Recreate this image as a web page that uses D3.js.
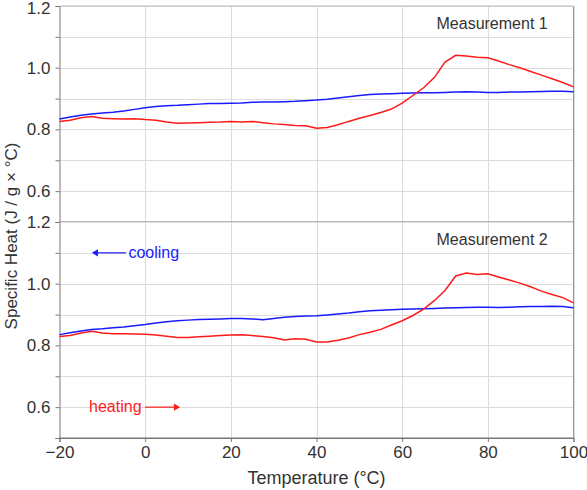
<html>
<script src="https://d3js.org/d3.v7.min.js"></script>
<style>
  body { margin: 0; background: #fff; }
  text { font-family: "Liberation Sans", Arial, sans-serif; }
</style>
<body onload="init()">
<svg width="587" height="490"></svg>
<script>
// temperature grid (°C), shared by all series
var temps = d3.range(-20, 100.01, 2.5);

// Measurement 1
var heat1 = [0.826,0.830,0.838,0.842,0.836,0.835,0.834,0.835,0.832,0.830,0.824,0.820,0.821,0.822,0.823,0.824,
  0.826,0.824,0.826,0.822,0.818,0.816,0.813,0.812,0.804,0.806,0.815,0.826,0.836,0.845,0.855,0.866,0.885,0.910,
  0.935,0.968,1.018,1.040,1.038,1.034,1.032,1.022,1.010,1.000,0.988,0.976,0.964,0.952,0.938];
var cool1 = [0.834,0.840,0.846,0.850,0.853,0.856,0.860,0.865,0.870,0.874,0.877,0.878,0.880,0.882,0.884,0.884,
  0.885,0.886,0.888,0.889,0.889,0.890,0.891,0.893,0.895,0.898,0.902,0.906,0.910,0.913,0.915,0.916,0.917,0.918,
  0.919,0.919,0.920,0.921,0.922,0.921,0.920,0.920,0.921,0.921,0.922,0.923,0.924,0.924,0.922];

// Measurement 2
var heat2 = [0.829,0.832,0.840,0.846,0.840,0.838,0.838,0.837,0.836,0.834,0.830,0.826,0.826,0.828,0.830,0.832,
  0.834,0.835,0.832,0.829,0.825,0.818,0.822,0.820,0.811,0.811,0.817,0.824,0.835,0.843,0.852,0.866,0.880,0.897,
  0.918,0.945,0.978,1.025,1.035,1.030,1.032,1.022,1.012,1.002,0.990,0.976,0.965,0.955,0.938];
var cool2 = [0.835,0.841,0.847,0.852,0.854,0.857,0.860,0.864,0.868,0.873,0.877,0.880,0.882,0.884,0.885,0.886,
  0.887,0.887,0.886,0.883,0.887,0.891,0.894,0.895,0.896,0.899,0.902,0.905,0.909,0.912,0.914,0.916,0.917,0.918,
  0.919,0.920,0.921,0.922,0.923,0.924,0.924,0.923,0.924,0.925,0.926,0.926,0.927,0.926,0.922];

var xTicks = [-20, 0, 20, 40, 60, 80, 100];
var yTicks = [0.5, 0.6, 0.7, 0.8, 0.9, 1.0, 1.1, 1.2];
var yLabels = [0.6, 0.8, 1.0, 1.2];
var panels = [
  { title: "Measurement 1", heat: heat1, cool: cool1 },
  { title: "Measurement 2", heat: heat2, cool: cool2 }
];

function init() {
  var svg = d3.select("svg");
  var left = 59.5, right = 573.5, top = 6, panelH = 216;
  var x = d3.scaleLinear().domain([-20, 100]).range([left, right]);
  var fmt = d3.format(".1f");

  panels.forEach(function (p, i) {
    var y0 = top + i * panelH;
    var y = d3.scaleLinear().domain([0.5, 1.2]).range([y0 + panelH, y0]);
    var g = svg.append("g");

    // grid
    g.selectAll(".hg").data(yTicks.slice(1)).enter().append("line")
      .attr("x1", left).attr("x2", right)
      .attr("y1", function (d) { return Math.round(y(d)) + 0.5; })
      .attr("y2", function (d) { return Math.round(y(d)) + 0.5; })
      .attr("stroke", "#dcdcdc");
    g.selectAll(".vg").data(xTicks.slice(1)).enter().append("line")
      .attr("x1", function (d) { return Math.round(x(d)) + 0.5; })
      .attr("x2", function (d) { return Math.round(x(d)) + 0.5; })
      .attr("y1", y0).attr("y2", y0 + panelH)
      .attr("stroke", "#dcdcdc");

    // left axis
    var ax = g.append("g").attr("transform", "translate(" + left + ",0)")
      .call(d3.axisLeft(y).tickValues(yTicks).tickSize(4).tickPadding(5)
        .tickFormat(function (d) { return yLabels.some(function (v) { return Math.abs(v - d) < 1e-6; }) ? fmt(d) : ""; }));
    ax.select(".domain").attr("stroke", "#777");
    ax.selectAll(".tick line").attr("stroke", "#777");
    ax.selectAll(".tick text").attr("fill", "#333").style("font-size", "17px");
    if (i === 0) {
      // keep the top label inside the page
      ax.selectAll(".tick text").filter(function (d) { return d === 1.2; }).attr("y", 2);
    }

    // right frame and bottom line
    g.append("line").attr("x1", right).attr("x2", right).attr("y1", y0).attr("y2", y0 + panelH)
      .attr("stroke", "#999");
    g.append("line").attr("x1", left).attr("x2", right).attr("y1", y0 + panelH).attr("y2", y0 + panelH)
      .attr("stroke", "#777");

    var line = d3.line()
      .x(function (d, k) { return x(temps[k]); })
      .y(function (d) { return y(d); });
    g.append("path").datum(p.cool).attr("d", line)
      .attr("fill", "none").attr("stroke", "#1a1aff").attr("stroke-width", 1.5);
    g.append("path").datum(p.heat).attr("d", line)
      .attr("fill", "none").attr("stroke", "#ff1a1a").attr("stroke-width", 1.5);

    g.append("text").attr("x", x(81)).attr("y", y0 + 23)
      .attr("text-anchor", "middle").attr("fill", "#333").style("font-size", "16px")
      .text(p.title);

    if (i === 1) {
      // cooling annotation
      g.append("line").attr("x1", x(-4.5)).attr("x2", x(-11.5)).attr("y1", y(1.1)).attr("y2", y(1.1))
        .attr("stroke", "#1a1aff").attr("stroke-width", 1.2);
      g.append("path").attr("d", d3.symbol(d3.symbolTriangle, 22)())
        .attr("transform", "translate(" + x(-11.5) + "," + y(1.1) + ") rotate(-90)")
        .attr("fill", "#1a1aff");
      g.append("text").attr("x", x(-3.9)).attr("y", y(1.1) + 5)
        .attr("fill", "#1a1aff").style("font-size", "16px").text("cooling");
      // heating annotation
      g.append("text").attr("x", x(-13.1)).attr("y", y(0.6) + 5)
        .attr("fill", "#ff1a1a").style("font-size", "16px").text("heating");
      g.append("line").attr("x1", x(0)).attr("x2", x(7.2)).attr("y1", y(0.6)).attr("y2", y(0.6))
        .attr("stroke", "#ff1a1a").attr("stroke-width", 1.2);
      g.append("path").attr("d", d3.symbol(d3.symbolTriangle, 22)())
        .attr("transform", "translate(" + x(7.2) + "," + y(0.6) + ") rotate(90)")
        .attr("fill", "#ff1a1a");
    }
  });

  // top frame
  svg.append("line").attr("x1", left).attr("x2", right).attr("y1", top).attr("y2", top)
    .attr("stroke", "#bbb");

  // bottom axis
  var bx = svg.append("g").attr("transform", "translate(0," + (top + 2 * panelH) + ")")
    .call(d3.axisBottom(x).tickValues(xTicks).tickSize(4).tickPadding(4)
      .tickFormat(function (d) { return d < 0 ? "\u2212" + Math.abs(d) : d; }));
  bx.select(".domain").attr("stroke", "#777");
  bx.selectAll(".tick line").attr("stroke", "#777");
  bx.selectAll(".tick text").attr("fill", "#333").style("font-size", "17px");

  svg.append("text").attr("x", x(40)).attr("y", 484)
    .attr("text-anchor", "middle").attr("fill", "#333").style("font-size", "18px")
    .text("Temperature (\u00B0C)");
  svg.append("text").attr("transform", "translate(17,236) rotate(-90)")
    .attr("text-anchor", "middle").attr("fill", "#333").style("font-size", "17px")
    .text("Specific Heat (J / g \u00D7 \u00B0C)");
}
</script>
</body>
</html>
